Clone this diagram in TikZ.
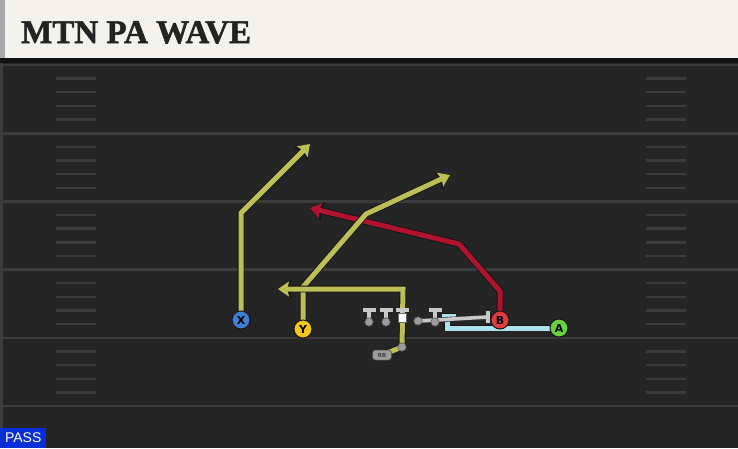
\documentclass[tikz,border=0pt]{standalone}
\usepackage{fontspec}
\newfontfamily\titlefont[FakeBold=1.6]{Liberation Serif}
\newfontfamily\letterfont{DejaVu Sans Bold}
\newfontfamily\passfont{Liberation Sans}
\usetikzlibrary{arrows.meta}
\definecolor{fieldbg}{HTML}{252525}
\definecolor{bandbg}{HTML}{131313}
\definecolor{yardline}{HTML}{3C3C3C}
\definecolor{headerbg}{HTML}{F4F2EC}
\definecolor{headerstrip}{HTML}{A8A8A8}
\definecolor{titlecol}{HTML}{232323}
\definecolor{routey}{HTML}{BDBE55}
\definecolor{router}{HTML}{B0132D}
\definecolor{routeb}{HTML}{ADE3F0}
\definecolor{blockg}{HTML}{C9C9C9}
\definecolor{olg}{HTML}{9C9C9C}
\definecolor{passblue}{HTML}{0B2FD6}
\definecolor{xblue}{HTML}{3F7FD9}
\definecolor{yyellow}{HTML}{F5C61A}
\definecolor{bred}{HTML}{E23A40}
\definecolor{agreen}{HTML}{6AD33A}
\pgfdeclarelayer{bg}
\pgfdeclarelayer{routes}
\pgfsetlayers{bg,routes,main}
\tikzset{
  yardln/.style={draw=yardline, line width=2.6pt},
  hashln/.style={draw=yardline, line width=2.4pt},
  routeln/.style={line width=5pt, line join=round,
    preaction={draw=black!92, line width=6.8pt}},
  arrowtip/.style={-{Stealth[length=5pt 1.2, width=6pt 1.8, inset=1.8pt]}},
  player/.style={circle, draw=black!90, line width=1pt, minimum size=18pt, inner sep=0pt,
    font=\letterfont\fontsize{11}{11}\selectfont, text=black},
  lineman/.style={circle, fill=olg, draw=black!70, line width=0.5pt, minimum size=8.5pt, inner sep=0pt},
  blockln/.style={draw=blockg, line width=3.6pt,
    preaction={draw=black!80, line width=4.8pt}},
}
\begin{document}
\begin{tikzpicture}[x=1pt,y=-1pt]
\useasboundingbox (0,0) rectangle (738,448);
\begin{pgfonlayer}{bg}
  % field
  \fill[fieldbg] (0,58) rectangle (738,448);
  \fill[bandbg] (0,58) rectangle (738,63);
  \fill[yardline] (0,63) rectangle (2.5,448);
  % header
  \fill[headerbg] (0,0) rectangle (738,58);
  \fill[headerstrip] (0,0) rectangle (5,58);
  % yard lines
  \foreach \yy in {65,133.2,201.4,269.6,337.8,406} {
    \draw[yardln] (2,\yy) -- (738,\yy);
  }
  % hash marks
  \foreach \yy in {65,133.2,201.4,269.6,337.8} {
    \foreach \k in {1,2,3,4} {
      \draw[hashln] (56,\yy+13.64*\k) -- (96,\yy+13.64*\k);
      \draw[hashln] (646,\yy+13.64*\k) -- (686,\yy+13.64*\k);
    }
  }
\end{pgfonlayer}

% title
\node[anchor=base west, inner sep=0pt, text=titlecol] (title) at (21,43)
  {\titlefont\bfseries\fontsize{33}{33}\selectfont MTN PA WAVE};

% players
\node[player, fill=xblue] (X) at (241,320) {X};
\node[player, fill=yyellow] (Y) at (303,329) {Y};
\node[player, fill=bred] (B) at (500,320) {B};
\node[player, fill=agreen] (A) at (559,328) {A};

% offensive line
\node[lineman] (LT) at (369,322) {};
\node[lineman] (LG) at (386,322) {};
\node[fill=white, draw=black!60, line width=0.4pt, minimum width=8pt, minimum height=9pt, inner sep=0pt] (C) at (402,318) {};
\node[lineman] (RT) at (435,322) {};
\node[lineman] (RG) at (418,321) {};
\node[lineman] (QB) at (402,347) {};
\node[fill=olg, draw=black!70, line width=0.5pt, rounded corners=3pt, minimum width=19pt, minimum height=10pt,
  inner sep=0pt, font=\letterfont\fontsize{5.5}{5.5}\selectfont, text=black!75] (RB) at (382,355) {RB};

% route waypoints
\coordinate (xa) at (241,213);
\coordinate (xend) at (310,144);
\coordinate (ya) at (303,287);
\coordinate (yb) at (366,214);
\coordinate (yend) at (450,175);
\coordinate (rba) at (403,289);
\coordinate (rbend) at (278,289);
\coordinate (ba) at (500,291);
\coordinate (bb) at (459,244);
\coordinate (bend) at (310,208);
\coordinate (aa) at (447,328);
\coordinate (ab) at (447,316);
\coordinate (abl) at (441.5,316);
\coordinate (abr) at (455.5,316);
\coordinate (rgend) at (488,317);
\coordinate (rgt) at (488,311);
\coordinate (rgb) at (488,323);
\coordinate (ltt) at (369,310);
\coordinate (lgt) at (386,310);
\coordinate (ct) at (402,310);
\coordinate (rtt) at (435,310);

\begin{pgfonlayer}{routes}
  % red route
  \draw[routeln, draw=router, arrowtip] (B.center) -- (ba) -- (bb) -- (bend);
  % X route
  \draw[routeln, draw=routey, arrowtip, line join=miter] (X.center) -- (xa) -- (xend);
  % Y route
  \draw[routeln, draw=routey, arrowtip] (Y.center) -- (ya) -- (yb) -- (yend);
  % RB route
  \draw[routeln, draw=routey, arrowtip, line join=miter] (RB.center) -- (QB.center) -- (rba) -- (rbend);
  % A route (block)
  \draw[routeln, draw=routeb, line join=miter] (A.center) -- (aa) -- (ab);
  \draw[routeln, draw=routeb] (abl) -- (abr);
  % line blocks
  \draw[blockln] (RG.center) -- (rgend);
  \draw[blockln] (rgt) -- (rgb);
  \foreach \n/\t in {LT/ltt, LG/lgt, C/ct, RT/rtt} {
    \draw[blockln] (\n.center) -- (\t);
    \draw[blockln] ([xshift=-6.5pt]\t) -- ([xshift=6.5pt]\t);
  }
\end{pgfonlayer}

% pass label
\node[fill=passblue, anchor=south west, minimum width=46pt, minimum height=20pt, inner sep=0pt,
  text=white, font=\passfont\fontsize{14}{14}\selectfont] (pass) at (0,448) {PASS};
\end{tikzpicture}
\end{document}
